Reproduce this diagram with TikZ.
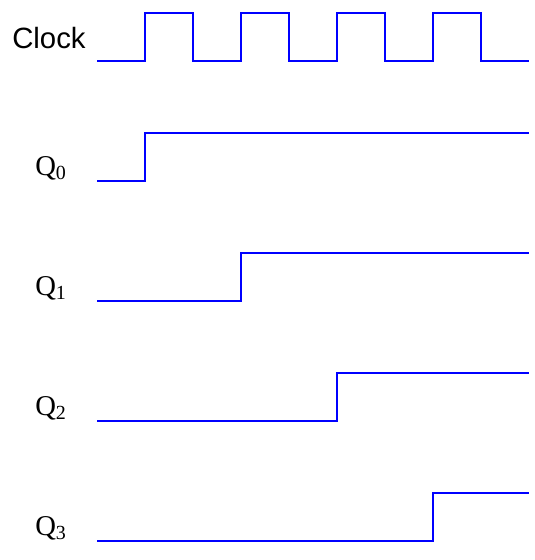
\documentclass[tikz,border=0pt]{standalone}
\usepackage{fontspec}
\setmainfont{Liberation Serif}
\newfontfamily\clockfont{Liberation Sans}
\usetikzlibrary{positioning}

\begin{document}
\begin{tikzpicture}[x=0.75pt,y=-0.75pt,
    wave/.style={draw=blue, line width=1.3pt, line join=miter},
    siglabel/.style={anchor=base west, inner sep=0pt, font=\fontsize{21.5}{24}\selectfont}]
  \useasboundingbox (0,0) rectangle (535,560);
  % clock
  \node[anchor=base west, inner sep=0pt, font=\clockfont\fontsize{22}{26}\selectfont] (clk) at (12,49) {Clock};
  \draw[wave] (97,61) \foreach \k in {0,...,3}{ -| (145+96*\k,13) -| (193+96*\k,61) } -- (529,61);
  % counter outputs
  \foreach \i in {0,...,3}{
    \node[siglabel] (q\i) at (35,175+120*\i) {Q\raisebox{-0.15em}{\fontsize{15}{17}\selectfont\i}};
    \draw[wave] (97,181+120*\i) -| (145+96*\i,133+120*\i) coordinate (q\i up) -- (529,133+120*\i);
  }
\end{tikzpicture}
\end{document}
